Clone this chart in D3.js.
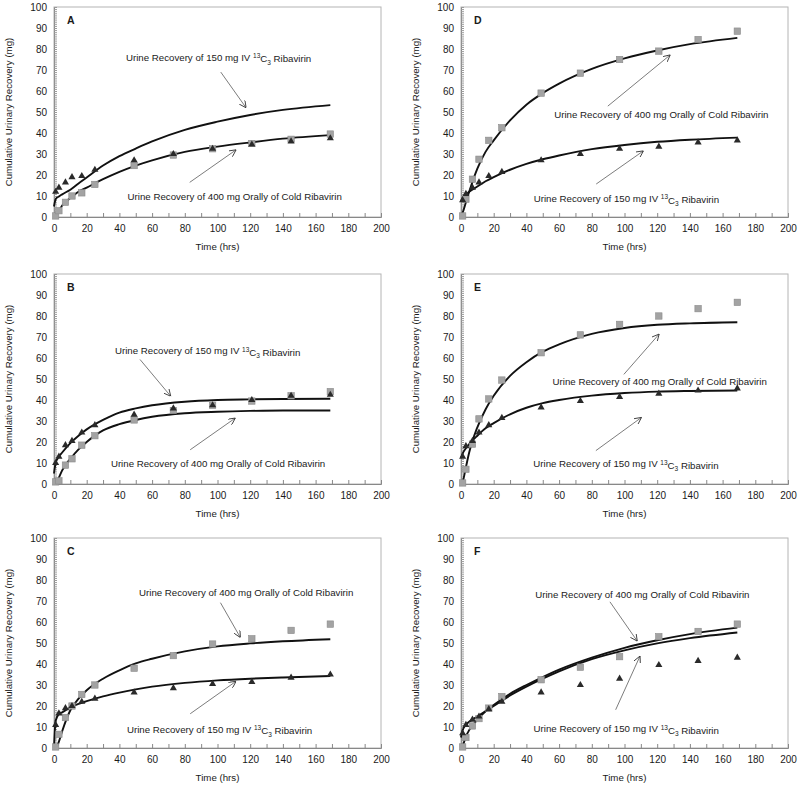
<!DOCTYPE html>
<html>
<head>
<meta charset="utf-8">
<script src="https://cdn.jsdelivr.net/npm/d3@7"></script>
<style>
  body { margin: 0; background: #fff; }
  svg { display: block; }
  text { font-family: "Liberation Sans", Arial, sans-serif; fill: #1a1a1a; }
</style>
</head>
<body>
<div id="chart"></div>
<script>
// sampling times (hrs) and times the fitted curves were read at
const sampleHours = [1, 3, 7, 11, 17, 25, 49, 73, 97, 121, 145, 169];
const fitHours = [0, 1, 3, 5, 10, 15, 20, 30, 40, 50, 60, 80, 100, 120, 140, 169];
const xTicks = [0, 20, 40, 60, 80, 100, 120, 140, 160, 180, 200];
const yTicks = [0, 10, 20, 30, 40, 50, 60, 70, 80, 90, 100];

// panel A
const ivA = [12, 14, 16.5, 19, 19.5, 22.5, 27, 30, 32.5, 34.5, 36, 37.5];
const oralA = [0.5, 3, 7, 10, 11.5, 15.5, 24.5, 29.5, 32.5, 35, 37, 39.5];
const ivFitA = [5, 8.5, 9.8, 10.8, 13, 16, 18.8, 24.5, 29, 32.6, 36, 41.5, 45.4, 48.6, 51, 53.3];
const oralFitA = [0, 0.5, 3, 5.5, 9, 12, 14, 18, 21.5, 24.5, 27, 31, 33.5, 35.5, 37.3, 39];

// panel B
const ivB = [10, 13, 18.5, 20.5, 24.5, 28, 33, 36, 37.5, 40, 42, 42.5];
const oralB = [1, 1.5, 9, 12, 18.5, 23, 30.5, 35, 37.5, 39.5, 42, 44];
const ivFitB = [5, 10, 13, 15, 19.5, 23, 26, 30.5, 34, 36, 37.5, 39.2, 40, 40.3, 40.5, 40.6];
const oralFitB = [0, 0, 3, 6.5, 12, 16.5, 20, 25.5, 28.5, 30.5, 32, 33.7, 34.4, 34.8, 35, 35];

// panel C
const ivC = [11, 16.5, 19, 20, 22, 23.5, 26.5, 28.5, 30.5, 31.5, 33.5, 35];
const oralC = [0.5, 6.5, 14.5, 20, 25.5, 30, 38, 44, 49.5, 52, 56, 59];
const ivFitC = [0, 13, 16.2, 17, 19.3, 21, 22.3, 24.6, 26.4, 27.9, 29.2, 31, 32.2, 33, 33.6, 34.3];
const oralFitC = [0, 0, 3, 8, 18, 23.5, 27.5, 33, 37, 40.3, 42.5, 46, 48.4, 49.8, 50.8, 51.8];

// panel D
const ivD = [8, 11, 14, 16.5, 19.5, 21.5, 27, 30, 32.5, 33.5, 35.5, 36.5];
const oralD = [0.5, 8.5, 18, 27.5, 36.5, 42.5, 59, 68.5, 75, 79, 84.5, 88.5];
const ivFitD = [7.5, 9, 10.5, 12, 14.5, 17, 19, 22.5, 25.3, 27.5, 29.3, 32.3, 34.3, 35.8, 36.8, 37.8];
const oralFitD = [0, 2, 7, 12, 23, 31, 36.5, 46, 53.5, 59, 63.5, 70.5, 75.5, 79.3, 82.3, 85.3];

// panel E
const ivE = [13, 18, 20.5, 24.5, 28, 31.5, 36.5, 39.5, 41.5, 43, 44.5, 45.5];
const oralE = [0.5, 7, 19, 31, 40.5, 49.5, 62.5, 71, 76, 80, 83.5, 86.5];
const ivFitE = [12.5, 14.5, 17, 19, 23, 26.5, 29, 33.2, 36.3, 38.5, 40, 42.1, 43.3, 44, 44.3, 44.5];
const oralFitE = [0, 1, 8, 15, 27, 35.5, 42, 51.5, 58, 63, 66.5, 71.5, 74.3, 75.8, 76.5, 77];

// panel F
const ivF = [7, 11, 13.5, 15, 18.5, 22, 26.5, 30, 33, 39.5, 41.5, 43];
const oralF = [0.5, 5, 10.5, 14, 19, 24.5, 32.5, 38.5, 43.5, 53, 55.5, 59];
const ivFitF = [5, 8.5, 11, 12.5, 15, 17.5, 20, 25, 29.2, 33, 36.5, 42.3, 46.5, 49.8, 52.3, 55];
const oralFitF = [0, 1, 5.5, 8.5, 13.5, 17.5, 20.5, 25.8, 30, 33.8, 37.3, 43, 47.7, 51.3, 54.2, 57.3];

var width = 800;
var height = 788;
var colLeft = [54, 461];
var rowTop = [7, 274, 538];
var plotW = 327;
var plotH = 210;

// where the two annotations and their arrows sit, in data units
var panels = [
    {id: "A", col: 0, row: 0, iv: ivA, oral: oralA, ivFit: ivFitA, oralFit: oralFitA,
     ivText: [44, 76], oralText: [45, 9.8],
     arrows: [[102, 69, 117.5, 52], [83, 16.5, 111.4, 32]]},
    {id: "B", col: 0, row: 1, iv: ivB, oral: oralB, ivFit: ivFitB, oralFit: oralFitB,
     ivText: [37.3, 63.3], oralText: [34.8, 9.9],
     arrows: [[52.6, 59.3, 71.4, 41.8], [83.3, 16.3, 110.9, 31.4]]},
    {id: "C", col: 0, row: 2, iv: ivC, oral: oralC, ivFit: ivFitC, oralFit: oralFitC,
     ivText: [44.6, 8.8], oralText: [52, 74],
     arrows: [[101.8, 69.2, 114, 52.6], [83.3, 16.3, 111.4, 31.8]]},
    {id: "D", col: 1, row: 0, iv: ivD, oral: oralD, ivFit: ivFitD, oralFit: oralFitD,
     ivText: [44.5, 8.7], oralText: [57, 48.8],
     arrows: [[89.8, 52.8, 128, 77.2], [82.7, 15.7, 111.6, 31.5]]},
    {id: "E", col: 1, row: 1, iv: ivE, oral: oralE, ivFit: ivFitE, oralFit: oralFitE,
     ivText: [44.2, 9.5], oralText: [56, 48.7],
     arrows: [[99.6, 52.2, 121.2, 71.4], [82.5, 15.9, 110.4, 31.7]]},
    {id: "F", col: 1, row: 2, iv: ivF, oral: oralF, ivFit: ivFitF, oralFit: oralFitF,
     ivText: [44.4, 9], oralText: [45.4, 73.1],
     arrows: [[91.1, 69.6, 107.8, 50.9], [94.6, 18.2, 109.5, 43.8]]}
];

var svg = d3.select("#chart")
    .append("svg")
        .attr("width", width)
        .attr("height", height)
        .attr("viewBox", [0, 0, width, height]);

var defs = svg.append("defs");
defs.append("marker")
    .attr("id", "arrowhead")
    .attr("viewBox", "0 0 10 10")
    .attr("refX", 10)
    .attr("refY", 5)
    .attr("markerWidth", 7)
    .attr("markerHeight", 7)
    .attr("markerUnits", "userSpaceOnUse")
    .attr("orient", "auto")
  .append("path")
    .attr("d", "M0,0 L10,5 L0,10")
    .attr("fill", "none")
    .attr("stroke", "#333")
    .attr("stroke-width", 1.2);

function drawPanel(p) {
    var left = colLeft[p.col];
    var top = rowTop[p.row];

    var x = d3.scaleLinear().domain([0, 200]).range([left, left + plotW]);
    var y = d3.scaleLinear().domain([0, 100]).range([top + plotH, top]);

    var g = svg.append("g");

    // frame
    g.append("rect")
        .attr("x", x(0))
        .attr("y", y(100))
        .attr("width", x(200) - x(0))
        .attr("height", y(0) - y(100))
        .attr("fill", "none")
        .attr("stroke", "#b4b4b4")
        .attr("stroke-width", 1);

    // y axis: minor ticks every unit, labelled every 10
    g.append("g")
        .attr("transform", `translate(${x(0)},0)`)
        .call(d3.axisRight(y).tickValues(d3.range(0, 101, 1)).tickSize(3).tickFormat(""))
        .call(g => g.selectAll("line").attr("stroke", "#9a9a9a"))
        .call(g => g.select(".domain").attr("stroke", "#888"));

    g.append("g")
        .attr("transform", `translate(${x(0)},0)`)
        .call(d3.axisLeft(y).tickValues(yTicks).tickSize(0).tickPadding(7))
        .call(g => g.select(".domain").remove())
        .call(g => g.selectAll("text").attr("font-size", 10).attr("fill", "#1a1a1a"));

    // x axis: ticks every 10 pointing inward
    g.append("g")
        .attr("transform", `translate(0,${y(0)})`)
        .call(d3.axisTop(x).tickValues(d3.range(0, 201, 10)).tickSize(4).tickFormat(""))
        .call(g => g.selectAll("line").attr("stroke", "#888"))
        .call(g => g.select(".domain").attr("stroke", "#888"));

    g.append("g")
        .attr("transform", `translate(0,${y(0)})`)
        .call(d3.axisBottom(x).tickValues(xTicks).tickSize(0).tickPadding(8))
        .call(g => g.select(".domain").remove())
        .call(g => g.selectAll("text").attr("font-size", 10).attr("fill", "#1a1a1a"));

    // axis titles
    g.append("text")
        .attr("x", (x(0) + x(200)) / 2)
        .attr("y", y(0) + 33)
        .attr("text-anchor", "middle")
        .attr("font-size", 9.7)
        .text("Time (hrs)");

    g.append("text")
        .attr("transform", `translate(${x(0) - 42},${(y(0) + y(100)) / 2}) rotate(-90)`)
        .attr("text-anchor", "middle")
        .attr("font-size", 9.7)
        .text("Cumulative Urinary Recovery (mg)");

    // panel letter
    g.append("text")
        .attr("x", x(0) + 13)
        .attr("y", y(100) + 17)
        .attr("font-size", 10.5)
        .attr("font-weight", "bold")
        .text(p.id);

    // fitted curves
    var line = d3.line()
        .x((d, i) => x(fitHours[i]))
        .y(d => y(d))
        .curve(d3.curveMonotoneX);

    [p.ivFit, p.oralFit].forEach(fit => {
        g.append("path")
            .datum(fit)
            .attr("fill", "none")
            .attr("stroke", "#111")
            .attr("stroke-width", 1.9)
            .attr("stroke-linejoin", "round")
            .attr("d", line);
    });

    // oral data: grey squares
    g.append("g")
        .selectAll("rect")
        .data(p.oral)
        .join("rect")
            .attr("x", (d, i) => x(sampleHours[i]) - 3.2)
            .attr("y", d => y(d) - 3.2)
            .attr("width", 6.4)
            .attr("height", 6.4)
            .attr("fill", "#a3a3a3")
            .attr("stroke", "#8a8a8a")
            .attr("stroke-width", 0.6);

    // IV data: dark triangles
    var tri = d3.symbol().type(d3.symbolTriangle).size(22);
    g.append("g")
        .selectAll("path")
        .data(p.iv)
        .join("path")
            .attr("transform", (d, i) => `translate(${x(sampleHours[i])},${y(d)})`)
            .attr("d", tri)
            .attr("fill", "#2a2a2a");

    // annotations
    function ivLabel(t, v) {
        var txt = g.append("text")
            .attr("x", x(t))
            .attr("y", y(v))
            .attr("dy", "0.35em")
            .attr("font-size", 9.7);
        txt.append("tspan").text("Urine Recovery of 150 mg IV ");
        txt.append("tspan").attr("font-size", 6.5).attr("dy", "-0.45em").text("13");
        txt.append("tspan").attr("dy", "0.45em").text("C");
        txt.append("tspan").attr("font-size", 6.5).attr("dy", "0.35em").text("3");
        txt.append("tspan").attr("dy", "-0.25em").text(" Ribavirin");
    }

    ivLabel(p.ivText[0], p.ivText[1]);

    g.append("text")
        .attr("x", x(p.oralText[0]))
        .attr("y", y(p.oralText[1]))
        .attr("dy", "0.35em")
        .attr("font-size", 9.7)
        .text("Urine Recovery of 400 mg Orally of Cold Ribavirin");

    g.append("g")
        .selectAll("line")
        .data(p.arrows)
        .join("line")
            .attr("x1", d => x(d[0]))
            .attr("y1", d => y(d[1]))
            .attr("x2", d => x(d[2]))
            .attr("y2", d => y(d[3]))
            .attr("stroke", "#444")
            .attr("stroke-width", 0.7)
            .attr("marker-end", "url(#arrowhead)");
}

panels.forEach(drawPanel);
</script>
</body>
</html>
